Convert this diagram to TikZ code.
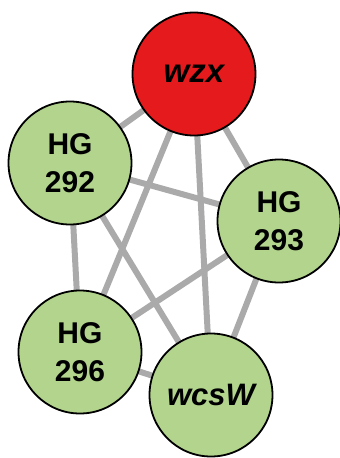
\documentclass[tikz,border=0pt]{standalone}
\usepackage{fontspec}
\setmainfont{Liberation Sans}
\usetikzlibrary{backgrounds}
\definecolor{nodered}{RGB}{228,26,28}
\definecolor{nodegreen}{RGB}{178,212,140}
\definecolor{edgegray}{RGB}{170,170,170}
\begin{document}
\begin{tikzpicture}[x=1pt,y=-1pt,
  vertex/.style={circle,draw=black,line width=1.8pt,minimum size=123pt,inner sep=0pt,
    font=\fontsize{30}{38}\selectfont\bfseries,align=center},
  link/.style={draw=edgegray,line width=6pt}]
\useasboundingbox (0,0) rectangle (340,458);
\node[vertex,fill=nodered,font=\fontsize{33}{38}\selectfont\bfseries] (wzx) at (194,74) {\itshape wzx};
\node[vertex,fill=nodegreen] (h292) at (70,163) {HG\\292};
\node[vertex,fill=nodegreen] (h293) at (279,221) {HG\\293};
\node[vertex,fill=nodegreen] (h296) at (80,352) {HG\\296};
\node[vertex,fill=nodegreen,font=\fontsize{31}{38}\selectfont\bfseries] (wcs) at (211,395) {\itshape wcsW};
\begin{scope}[on background layer]
\foreach \a/\b in {wzx/h292,wzx/h293,wzx/h296,wzx/wcs,h292/h293,h292/h296,h292/wcs,h293/h296,h293/wcs,h296/wcs}
  \draw[link] (\a.center) -- (\b.center);
\end{scope}
\end{tikzpicture}
\end{document}
